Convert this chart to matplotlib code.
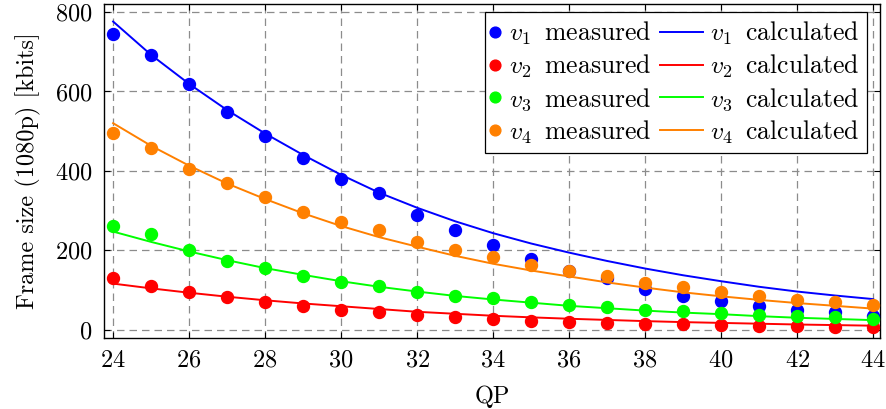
import numpy as np
import matplotlib
matplotlib.use("Agg")
import matplotlib.pyplot as plt
from matplotlib.legend_handler import HandlerLine2D

plt.rcParams['font.family'] = ['cmr10', 'DejaVu Serif']
plt.rcParams['mathtext.fontset'] = 'cm'
plt.rcParams['axes.formatter.use_mathtext'] = True
plt.rcParams['font.size'] = 17.5

qp = np.arange(24, 45)

# measured frame sizes (kbits)
v1_meas = [745, 693, 618, 549, 488, 433, 380, 344, 289, 251, 214, 178, 148, 130, 102, 86, 71, 59, 50, 44, 35]
v2_meas = [129, 111, 94, 82, 70, 60, 50, 44, 36, 32, 27, 23, 20, 18, 15, 13, 12, 10, 8, 7, 6]
v3_meas = [262, 241, 200, 174, 155, 136, 121, 109, 95, 86, 79, 70, 62, 58, 50, 46, 41, 37, 34, 31, 27]
v4_meas = [495, 457, 404, 369, 335, 297, 272, 252, 222, 201, 183, 163, 147, 136, 117, 108, 96, 84, 75, 70, 61]

# calculated (model) frame sizes
v1_calc = [776, 692, 619, 553, 494, 440, 390, 345, 307, 273, 243, 217, 194, 173, 154, 137, 122, 108, 96, 86, 77]
v2_calc = [116, 104, 93, 83, 74, 66, 59, 52, 45, 40, 35, 31, 27.5, 24.5, 21.5, 19, 17, 15, 13, 11.5, 10]
v3_calc = [247, 221, 197, 175, 155, 138, 122, 108, 96, 85, 76, 68, 60, 54, 48, 43, 39, 34, 30, 27, 24]
v4_calc = [520, 463, 413, 368, 329, 293, 261, 233, 209, 186, 166, 149, 134, 119, 106, 94, 84, 75, 67, 60, 53]

farben = ['#0000ff', '#ff0000', '#00ff00', '#ff8000']
namen = ['$v_1\\,$', '$v_2\\,$', '$v_3\\,$', '$v_4\\,$']
gemessen = [v1_meas, v2_meas, v3_meas, v4_meas]
berechnet = [v1_calc, v2_calc, v3_calc, v4_calc]


# Legenden-Handler: Punkt rechts im Feld, Linie nach links verlaengert
class PunktRechts(HandlerLine2D):
    def get_xdata(self, legend, xdescent, ydescent, width, height, fontsize):
        x = -xdescent + width - 0.3 * fontsize
        return [x], [x]


class LinieLang(HandlerLine2D):
    def get_xdata(self, legend, xdescent, ydescent, width, height, fontsize):
        xd = [-xdescent - 1.3 * fontsize, -xdescent + width]
        return xd, xd


fig = plt.figure(figsize=(8.86, 4.09), dpi=100)
ax = fig.add_axes([0.1174, 0.1736, 0.8758, 0.8164])

h_meas = []
h_calc = []
for i in range(4):
    m, = ax.plot(qp, gemessen[i], 'o', color=farben[i], markersize=8.6,
                 label=namen[i] + ' measured', zorder=3)
    c, = ax.plot(qp, berechnet[i], '-', color=farben[i], linewidth=1.4,
                 label=namen[i] + ' calculated', zorder=3)
    h_meas.append(m)
    h_calc.append(c)

ax.set_xlim(23.76, 44.18)
ax.set_ylim(-21, 820)
ax.set_xticks(np.arange(24, 45, 2))
ax.set_yticks(np.arange(0, 801, 200))
ax.grid(True, linestyle=(0, (6, 4)), color='#8c8c8c', linewidth=0.9)
ax.set_axisbelow(True)
ax.tick_params(direction='in', top=True, right=True, length=4, pad=8.5)
for s in ax.spines.values():
    s.set_linewidth(1.0)

ax.set_xlabel('QP', labelpad=9.5)
ax.set_ylabel('Frame size (1080p) [kbits]', labelpad=10)

handler = {h: PunktRechts() for h in h_meas}
handler.update({h: LinieLang() for h in h_calc})
leg = ax.legend(h_meas + h_calc, [h.get_label() for h in h_meas + h_calc],
                ncol=2, loc='upper right', fancybox=False, framealpha=1,
                edgecolor='black', fontsize=18.5, handlelength=0.4,
                handletextpad=0.25, columnspacing=1.6, borderpad=0.3,
                labelspacing=0.22, borderaxespad=0,
                bbox_to_anchor=(0.983, 0.976), markerscale=0.9,
                handler_map=handler)
leg.get_frame().set_linewidth(0.9)

fig.savefig('out.png', dpi=100)
